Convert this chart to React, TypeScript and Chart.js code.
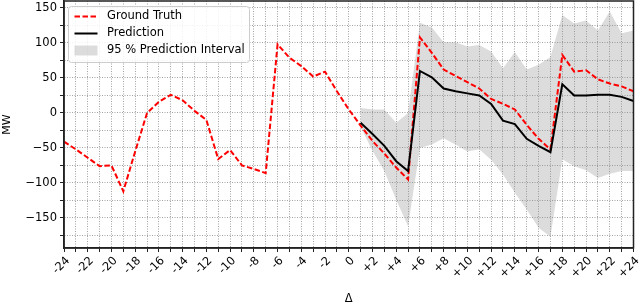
import React, { useEffect, useRef } from 'react';
import { Chart, registerables } from 'chart.js';

Chart.register(...registerables);

// ---- data ----
const X_VALUES = [
  -24, -23, -22, -21, -20, -19, -18, -17, -16, -15, -14, -13, -12, -11, -10, -9, -8, -7, -6, -5, -4, -3, -2, -1,
  0, 1, 2, 3, 4, 5, 6, 7, 8, 9, 10, 11, 12, 13, 14, 15, 16, 17, 18, 19, 20, 21, 22, 23, 24,
];
const X_TICK_LABELS = [
  '-24', '', '-22', '', '-20', '', '-18', '', '-16', '', '-14', '', '-12', '', '-10', '', '-8', '', '-6', '', '-4', '', '-2', '',
  '0', '', '+2', '', '+4', '', '+6', '', '+8', '', '+10', '', '+12', '', '+14', '', '+16', '', '+18', '', '+20', '', '+22', '', '+24',
];
const Y_TICKS = [-175, -150, -125, -100, -75, -50, -25, 0, 25, 50, 75, 100, 125, 150];
const Y_TICK_LABELS = ['', '\u2212150', '', '\u2212100', '', '\u221250', '', '0', '', '50', '', '100', '', '150'];

// ground truth for -24 .. +24
const GROUND_TRUTH = [
  -41, -52, -64, -76, -75, -112, -55, 0, 16, 26, 18, 3, -10, -66, -53, -75, -80, -86, 98, 79, 67, 52, 59, 31,
  5, -18, -40, -58, -78, -95, 108, 86, 62, 53, 44, 35, 20, 13, 5, -17, -37, -52, 83, 59, 61, 48, 42, 38, 31,
];
// forecast horizon +1 .. +24
const PREDICTION = [-14, -30, -47, -69, -83, 60, 51, 35, 31, 28, 25, 13, -11, -16, -37, -47, -56, 41, 25, 25, 26, 26, 23, 17];
const UPPER = [7, 5, 5, -14, 0, 129, 122, 101, 101, 95, 97, 88, 64, 87, 62, 69, 80, 140, 128, 132, 118, 145, 114, 118];
const LOWER = [-20, -54, -83, -124, -162, -50, -45, -36, -45, -55, -52, -67, -88, -114, -138, -164, -177, -66, -76, -82, -93, -87, -83, -83];

const Y_MIN = -193;
const Y_MAX = 160;

const FONT = 'DejaVu Sans';
const BAND_COLOR = 'rgba(128,128,128,0.28)';
const GRID_COLOR = 'rgba(0,0,0,0.36)';

const pad = (arr: number[]) => [...Array(X_VALUES.length - arr.length).fill(null), ...arr];

const framePlugin = {
  id: 'frameAndLegend',
  afterDraw(chart: any) {
    const { ctx, chartArea } = chart;
    ctx.save();
    // frame
    ctx.strokeStyle = '#222';
    ctx.lineWidth = 1.5;
    ctx.setLineDash([]);
    ctx.strokeRect(chartArea.left, chartArea.top, chartArea.right - chartArea.left, chartArea.bottom - chartArea.top);

    // legend
    const ds = chart.data.datasets;
    const bx = chartArea.left + 4.5;
    const by = chartArea.top + 5.5;
    const bw = 181;
    const bh = 56;
    ctx.beginPath();
    ctx.roundRect(bx, by, bw, bh, 3);
    ctx.fillStyle = 'rgba(255,255,255,0.85)';
    ctx.fill();
    ctx.strokeStyle = '#cccccc';
    ctx.lineWidth = 1;
    ctx.stroke();

    const sx0 = bx + 6;
    const sx1 = bx + 29;
    const tx = bx + 38.5;
    const rows = [by + 10, by + 27, by + 44];
    ctx.font = `11.5px "${FONT}"`;
    ctx.textBaseline = 'middle';
    ctx.textAlign = 'left';

    // ground truth
    ctx.beginPath();
    ctx.strokeStyle = ds[0].borderColor;
    ctx.lineWidth = 2;
    ctx.setLineDash([5.5, 2.5]);
    ctx.moveTo(sx0, rows[0]);
    ctx.lineTo(sx1, rows[0]);
    ctx.stroke();
    // prediction
    ctx.beginPath();
    ctx.setLineDash([]);
    ctx.strokeStyle = ds[1].borderColor;
    ctx.moveTo(sx0, rows[1]);
    ctx.lineTo(sx1, rows[1]);
    ctx.stroke();
    // band
    ctx.fillStyle = BAND_COLOR;
    ctx.fillRect(sx0, rows[2] - 5, sx1 - sx0, 10);

    ctx.fillStyle = '#000';
    ctx.fillText(ds[0].label, tx, rows[0]);
    ctx.fillText(ds[1].label, tx, rows[1]);
    ctx.fillText(ds[2].label, tx, rows[2]);
    ctx.restore();
  },
};

export default function App() {
  const ref = useRef<HTMLCanvasElement | null>(null);

  useEffect(() => {
    const canvas = ref.current;
    if (!canvas) return;
    const chart = new Chart(canvas, {
      type: 'line',
      data: {
        labels: X_VALUES,
        datasets: [
          {
            label: 'Ground Truth',
            data: GROUND_TRUTH,
            borderColor: '#ff0000',
            borderWidth: 2,
            borderDash: [5.5, 2.5],
            pointRadius: 0,
            fill: false,
            tension: 0,
            order: 1,
          },
          {
            label: 'Prediction',
            data: pad(PREDICTION),
            borderColor: '#000000',
            borderWidth: 2,
            pointRadius: 0,
            fill: false,
            tension: 0,
            order: 0,
          },
          {
            label: '95 % Prediction Interval',
            data: pad(UPPER),
            borderWidth: 0,
            borderColor: 'rgba(0,0,0,0)',
            backgroundColor: BAND_COLOR,
            pointRadius: 0,
            fill: '+1',
            tension: 0,
            order: 3,
          },
          {
            label: 'lower',
            data: pad(LOWER),
            borderWidth: 0,
            borderColor: 'rgba(0,0,0,0)',
            pointRadius: 0,
            fill: false,
            tension: 0,
            order: 2,
          },
        ],
      },
      options: {
        responsive: false,
        animation: false,
        events: [],
        layout: { padding: { left: 0, right: 6.5, top: 1, bottom: 0 } },
        plugins: { legend: { display: false }, tooltip: { enabled: false } },
        scales: {
          x: {
            type: 'category',
            offset: false,
            grid: {
              color: GRID_COLOR,
              lineWidth: 1,
              tickLength: 4,
              tickColor: '#222',
              offset: false,
            },
            border: { display: true, color: '#222', width: 1.5, dash: [1, 1.5] },
            ticks: {
              autoSkip: false,
              maxRotation: 45,
              minRotation: 45,
              padding: 2,
              labelOffset: 4,
              color: '#000',
              font: { family: FONT, size: 11.5 },
              callback: (_v: any, i: number) => X_TICK_LABELS[i],
            },
            title: {
              display: true,
              text: 'Δ',
              color: '#000',
              font: { family: FONT, size: 11.5 },
              padding: { top: 0, bottom: -3 },
            },
            afterFit: (scale: any) => {
              scale.height = 55;
              scale.paddingLeft = 0;
              scale.paddingRight = 0;
            },
          },
          y: {
            type: 'linear',
            min: Y_MIN,
            max: Y_MAX,
            bounds: 'data',
            grid: {
              color: GRID_COLOR,
              lineWidth: 1,
              tickLength: 4,
              tickColor: '#222',
            },
            border: { display: true, color: '#222', width: 1.5, dash: [1, 1.5] },
            afterBuildTicks: (scale: any) => {
              scale.ticks = Y_TICKS.map((value) => ({ value }));
            },
            ticks: {
              padding: 3,
              color: '#000',
              font: { family: FONT, size: 11.5 },
              callback: (_v: any, i: number) => Y_TICK_LABELS[i],
            },
            title: {
              display: true,
              text: 'MW',
              color: '#000',
              font: { family: FONT, size: 11 },
              padding: { top: 1, bottom: 0 },
            },
            afterFit: (scale: any) => {
              scale.width = 64;
              scale.paddingTop = 0;
              scale.paddingBottom = 0;
            },
          },
        },
      },
      plugins: [framePlugin],
    } as any);
    return () => chart.destroy();
  }, []);

  return (
    <div style={{ position: 'fixed', left: 0, top: 0, width: 640, height: 303, background: '#fff' }}>
      <canvas ref={ref} width={640} height={303} style={{ display: 'block', width: 640, height: 303 }} />
    </div>
  );
}
